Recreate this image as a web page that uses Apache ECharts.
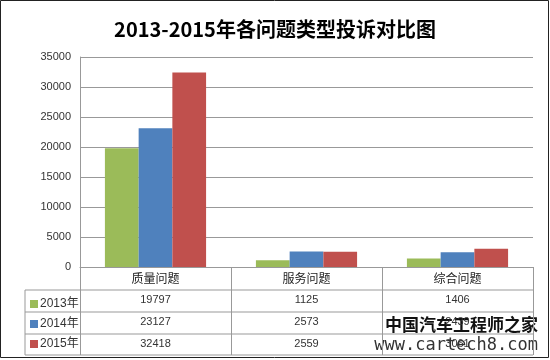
<!DOCTYPE html>
<html><head><meta charset="utf-8">
<script src="https://cdn.jsdelivr.net/npm/echarts@6/dist/echarts.min.js"></script>
<style>html,body{margin:0;padding:0;background:#fff}#c{width:550px;height:360px}</style>
</head><body><div id="c"></div>
<script>
var title = '2013-2015年各问题类型投诉对比图';
var categories = ['质量问题', '服务问题', '综合问题'];
var seriesNames = ['2013年', '2014年', '2015年'];
var v2013 = [19797, 1125, 1406];
var v2014 = [23127, 2573, 2439];
var v2015 = [32418, 2559, 3061];
var yTicks = [0, 5000, 10000, 15000, 20000, 25000, 30000, 35000];
var colors = ['#9BBB59', '#4F81BD', '#C0504D'];
var allValues = [v2013, v2014, v2015];

var chart = echarts.init(document.getElementById('c'));
var font = '"Liberation Sans", "Noto Sans CJK SC", sans-serif';
var option = {
  animation: false,
  color: colors,
  title: {
    text: title, left: 'center', top: 14,
    textStyle: {fontFamily: '"Noto Sans CJK SC", sans-serif', fontSize: 20, fontWeight: 'bold', color: '#000'}
  },
  legend: {
    orient: 'vertical', left: 25, top: 293, itemGap: 8,
    itemWidth: 8, itemHeight: 8, icon: 'rect', selectedMode: false,
    data: seriesNames,
    textStyle: {fontFamily: font, fontSize: 12, color: '#333', padding: [0, 0, 0, -3]}
  },
  grid: {left: 80, right: 17, top: 57, bottom: 93},
  xAxis: {
    type: 'category', data: categories,
    axisLine: {lineStyle: {color: '#999'}},
    axisTick: {show: true, length: 88, lineStyle: {color: '#999'}},
    axisLabel: {
      margin: 0,
      formatter: function (val, idx) {
        return '{h|' + val + '}\n{v|' + v2013[idx] + '}\n{v|' + v2014[idx] + '}\n{v|' + v2015[idx] + '}';
      },
      rich: {
        h: {fontFamily: '"Noto Sans CJK SC", sans-serif', fontSize: 12, color: '#222', lineHeight: 22},
        v: {fontFamily: font, fontSize: 11, color: '#333', lineHeight: 22}
      }
    }
  },
  yAxis: {
    type: 'value', min: yTicks[0], max: yTicks[yTicks.length - 1], interval: yTicks[1] - yTicks[0],
    axisLine: {show: true, lineStyle: {color: '#999'}},
    axisTick: {show: false},
    axisLabel: {margin: 9, fontFamily: font, fontSize: 11, color: '#333',
      formatter: function (v) { return String(v); }},
    splitLine: {lineStyle: {color: '#999'}}
  },
  series: seriesNames.map(function (n, i) {
    return {name: n, type: 'bar', data: allValues[i], barGap: '0%', barCategoryGap: '33%',
      itemStyle: {color: colors[i]}};
  })
};
chart.setOption(option);

var rect = chart.getModel().getComponent('grid').coordinateSystem.getRect();
var x1 = rect.x + rect.width, yb = rect.y + rect.height;
var lc = '#999';
var els = [];
[yb + 23, yb + 45, yb + 67, yb + 88].forEach(function (y) {
  els.push({type: 'line', shape: {x1: 25, y1: y, x2: x1, y2: y}, style: {stroke: lc, lineWidth: 1}});
});
els.push({type: 'line', shape: {x1: 25, y1: yb + 23, x2: 25, y2: yb + 88}, style: {stroke: lc, lineWidth: 1}});
els.push({type: 'text', right: 12, bottom: 27, style: {text: '中国汽车工程师之家', font: 'bold 17px "Noto Sans CJK SC"', fill: '#111'}});
els.push({type: 'text', right: 12, bottom: 6, style: {text: 'www.cartech8.com', font: '17px "DejaVu Sans Mono"', fill: '#333'}});
els.push({type: 'rect', shape: {x: 0.5, y: 0.5, width: 548, height: 357}, style: {fill: 'none', stroke: '#222', lineWidth: 1}});
chart.setOption({graphic: els});
</script></body></html>
